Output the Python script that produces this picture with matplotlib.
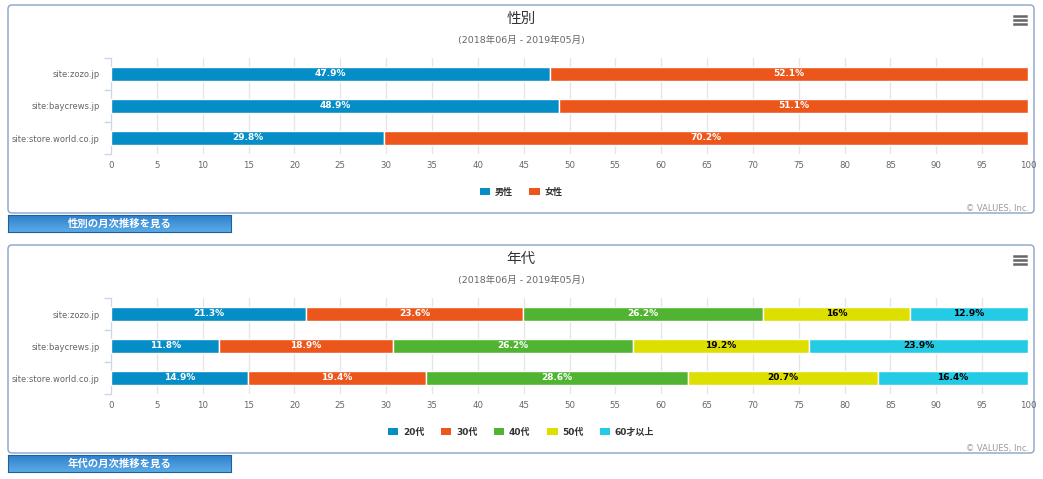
import matplotlib
matplotlib.use("Agg")
import matplotlib.pyplot as plt
import numpy as np
from matplotlib.patches import FancyBboxPatch, Patch
from matplotlib.transforms import IdentityTransform
from matplotlib.lines import Line2D

plt.rcParams['font.family'] = ['DejaVu Sans', 'Noto Sans CJK JP']

W, H = 1043, 479
DPI = 100

# ---- data ----
sites = ["site:zozo.jp", "site:baycrews.jp", "site:store.world.co.jp"]
ticks = list(range(0, 101, 5))

gender_names = ["男性", "女性"]
gender_male = [47.9, 48.9, 29.8]
gender_female = [52.1, 51.1, 70.2]

age_names = ["20代", "30代", "40代", "50代", "60才以上"]
age_20 = [21.3, 11.8, 14.9]
age_30 = [23.6, 18.9, 19.4]
age_40 = [26.2, 26.2, 28.6]
age_50 = [16, 19.2, 20.7]
age_60 = [12.9, 23.9, 16.4]

colors = ["#058DC7", "#ED561B", "#50B432", "#DDDF00", "#24CBE5"]
dark_text = [False, False, False, True, True]

title_gender = "性別"
title_age = "年代"
subtitle = "(2018年06月 - 2019年05月)"
button_gender = "性別の月次推移を見る"
button_age = "年代の月次推移を見る"
credit = "© VALUES, Inc."

fig = plt.figure(figsize=(W / DPI, H / DPI), dpi=DPI)
fig.patch.set_facecolor("white")


def fx(x):
    return x / W


def fy(y):
    return 1 - y / H


def fmt(v):
    s = f"{v:.1f}"
    if s.endswith(".0"):
        s = s[:-2]
    return s + "%"


def panel(top, title, names, series):
    box = FancyBboxPatch((8, H - (top + 208)), 1026, 208,
                         boxstyle="round,pad=0,rounding_size=4",
                         transform=IdentityTransform(), facecolor="white",
                         edgecolor="#8aa4c8", linewidth=1.0, zorder=0)
    fig.add_artist(box)
    fig.text(fx(521), fy(top + 13), title, ha="center", va="center",
             fontsize=10.5, color="#333333")
    fig.text(fx(521), fy(top + 35), subtitle, ha="center", va="center",
             fontsize=6.8, color="#666666")
    for dy in (-4, 0, 4):
        fig.add_artist(Line2D([1014, 1026], [H - (top + 15) + dy] * 2,
                              transform=IdentityTransform(), color="#666666",
                              linewidth=1.8))
    fig.text(fx(1029), fy(top + 203), credit, ha="right", va="center",
             fontsize=6, color="#999999")

    ax = fig.add_axes([fx(111), fy(top + 149), fx(1028) - fx(111), 96 / H])
    y = np.arange(len(sites))
    left = np.zeros(len(sites))
    for i, (vals, c) in enumerate(zip(series, colors)):
        vals = np.array(vals, dtype=float)
        ax.barh(y, vals, left=left, height=0.44, color=c, edgecolor="white",
                linewidth=1.0, zorder=3)
        for yi, (l, v) in enumerate(zip(left, vals)):
            ax.text(l + v / 2, yi, fmt(v), ha="center", va="center",
                    fontsize=6.5, fontweight="bold",
                    color="black" if dark_text[i] else "white", zorder=4)
        left = left + vals
    ax.set_xlim(0, 100)
    ax.set_ylim(len(sites) - 0.5, -0.5)
    ax.set_xticks(ticks)
    ax.set_xticklabels([str(t) for t in ticks], fontsize=6.2, color="#666666")
    ax.tick_params(axis="x", length=0, pad=5)
    ax.set_yticks(y)
    ax.set_yticklabels(sites, fontsize=6, color="#666666")
    ax.set_yticks(np.arange(-0.5, len(sites), 1), minor=True)
    ax.tick_params(axis="y", which="major", length=0, pad=8)
    ax.tick_params(axis="y", which="minor", length=5, color="#ccd6eb", width=1)
    ax.grid(axis="x", color="#e6e6e6", linewidth=1, zorder=0)
    ax.set_axisbelow(True)
    for s in ("top", "right", "bottom"):
        ax.spines[s].set_visible(False)
    ax.spines["left"].set_color("#ccd6eb")
    ax.patch.set_alpha(0)

    handles = [Patch(facecolor=c, edgecolor="none") for c in colors[:len(names)]]
    leg = fig.legend(handles, names, loc="center", ncol=len(names),
                     bbox_to_anchor=(fx(521), fy(top + 187)), frameon=False,
                     fontsize=6.5, handlelength=1.2, handleheight=0.9,
                     handletextpad=0.5, columnspacing=1.8)
    for t in leg.get_texts():
        t.set_fontweight("bold")
        t.set_color("#333333")


def button(top, label):
    bax = fig.add_axes([fx(8), fy(top + 17), fx(231) - fx(8), 17 / H])
    grad = np.linspace(0, 1, 50).reshape(-1, 1)
    cmap = matplotlib.colors.LinearSegmentedColormap.from_list(
        "b", ["#5aaae6", "#2f80cc"])
    bax.imshow(grad, aspect="auto", cmap=cmap, extent=(0, 1, 0, 1))
    bax.set_xlim(0, 1)
    bax.set_ylim(1, 0)
    bax.set_xticks([])
    bax.set_yticks([])
    for s in bax.spines.values():
        s.set_color("#1f5f9e")
    bax.text(0.5, 0.5, label, ha="center", va="center", fontsize=7.5,
             fontweight="bold", color="white", transform=bax.transAxes)


panel(5, title_gender, gender_names, [gender_male, gender_female])
button(215, button_gender)
panel(245, title_age, age_names, [age_20, age_30, age_40, age_50, age_60])
button(455, button_age)

fig.savefig("out.png", dpi=DPI)
